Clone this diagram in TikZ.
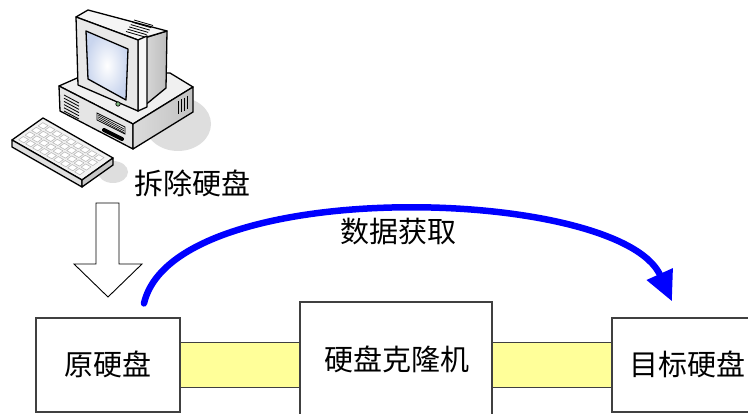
\documentclass[tikz,border=0pt]{standalone}
\usepackage{fontspec}
\newfontfamily\cjk{Noto Sans CJK SC}
\usetikzlibrary{arrows.meta}
\definecolor{bandyellow}{HTML}{FFFF99}
\definecolor{edgegray}{HTML}{404040}
\definecolor{screenblue}{HTML}{C9D5EE}
\definecolor{flowblue}{HTML}{0000FF}
\begin{document}
\begin{tikzpicture}[x=1pt,y=-1pt,
  diskbox/.style={draw=edgegray, line width=1.2pt, fill=white, inner sep=0pt},
  band/.style={draw=edgegray, line width=1pt, fill=bandyellow},
  lbl/.style={font=\cjk\fontsize{29}{32}\selectfont, inner sep=0pt},
  pc/.style={draw=black, line width=1.3pt, line join=round},
  vent/.style={draw=black, line width=0.8pt},
  keycap/.style={draw=gray!55, line width=0.6pt, fill=white, line join=round},
  softshadow/.style={fill=black!13, draw=none},
  hollowarrow/.style={draw=black, line width=0.9pt, fill=white, line join=miter},
  flow/.style={draw=flowblue, line width=6.5pt, line cap=round,
    -{Triangle[length=30pt,width=27pt]}}
]
\useasboundingbox (0,0) rectangle (748,414);
\clip (0,0) rectangle (748,414);

% ---------- desktop computer ----------
% floor shadows
\path[softshadow] (178,124) ellipse [x radius=33, y radius=27];
\path[softshadow] (113,172) ellipse [x radius=15, y radius=11];

% system unit
\path[pc, fill=black!6] (59,86) -- (84,75) -- (170,73) -- (193,87) -- (133,124) -- cycle;
\path[pc, fill=black!10] (59,86) -- (133,124) -- (133,149) -- (60,111) -- cycle;
\path[pc, left color=black!14, right color=black!24] (133,124) -- (193,87) -- (193,112) -- (133,149) -- cycle;
\foreach \i in {0,...,5}
  \draw[vent] (64,{95+3.2*\i}) -- (79,{103+3.2*\i});
\path[draw=black, line width=0.7pt, fill=black!8] (97,113) -- (125,127) -- (125,134) -- (97,120) -- cycle;
\foreach \i in {0,...,2}
  \draw[vent, line width=0.6pt] (98,{115+1.8*\i}) -- (124,{129+1.8*\i});
\draw[black, line width=4pt, line cap=round] (104,130) -- (122,139);
\foreach \x in {178,181,184,187}
  \draw[vent, line width=1pt] (\x,{124-0.617*(\x-133)+5}) -- (\x,{124-0.617*(\x-133)+18});

% monitor
\path[pc, left color=black!12, right color=black!26] (138,40) -- (167,31) -- (166,88) -- (138,111) -- cycle;
\path[pc, fill=black!4] (76,17) -- (88,10) -- (167,31) -- (147,37) -- (138,40) -- cycle;
\foreach \i in {0,...,5}
  \draw[vent] ({134-1.6*\i},{20+2.3*\i}) -- ({153-1.6*\i},{25.5+2.3*\i});
\path[pc, fill=black!3] (138,40) -- (147,36) -- (147,107) -- (138,111) -- cycle;
\path[pc, fill=black!9] (76,17) -- (138,40) -- (138,111) -- (78,85) -- cycle;
\path[pc, inner color=white, outer color=screenblue] (86,31) -- (128,49) -- (126,100) -- (88,79) -- cycle;
\path[draw=black, line width=0.7pt, fill=green!45!black!50] (118,104) circle [radius=2.2];

% keyboard
\path[pc, fill=black!5] (12,140) -- (43,118) -- (113,158) -- (82,180) -- cycle;
\path[pc, fill=black!12] (12,140) -- (82,180) -- (82,187) -- (12,147) -- cycle;
\path[pc, fill=black!22] (82,180) -- (113,158) -- (113,165) -- (82,187) -- cycle;
\foreach \j in {0,...,8}
  \foreach \k in {0,...,3} {
    \pgfmathsetmacro{\sa}{0.05+0.1*\j}
    \pgfmathsetmacro{\sb}{\sa+0.075}
    \pgfmathsetmacro{\ta}{0.1+0.21*\k}
    \pgfmathsetmacro{\tb}{\ta+0.15}
    \path[keycap] ({12+70*\sa+31*\ta},{140+40*\sa-22*\ta})
      -- ({12+70*\sb+31*\ta},{140+40*\sb-22*\ta})
      -- ({12+70*\sb+31*\tb},{140+40*\sb-22*\tb})
      -- ({12+70*\sa+31*\tb},{140+40*\sa-22*\tb}) -- cycle;
  }

% ---------- removal step ----------
\node[lbl] (remove) at (192,183) {拆除硬盘};
\path[hollowarrow] (96,203) -- (119,203) -- (119,264) -- (142,264) -- (108,297)
  -- (74,264) -- (96,264) -- cycle;

% ---------- disks and cloner ----------
\node[diskbox, minimum width=144pt, minimum height=94pt] (src) at (108,365) {};
\node[diskbox, minimum width=192pt, minimum height=130pt] (clone) at (396,367) {};
\node[diskbox, minimum width=150pt, minimum height=94pt] (dst) at (687,365) {};

\draw[band] ([yshift=22.5pt]src.east) rectangle ([yshift=-22.5pt]src.east -| clone.west);
\draw[band] ([yshift=22.5pt]src.east -| clone.east) rectangle ([yshift=-22.5pt]src.east -| dst.west);

\node[lbl] (srcLbl) at (108,364) {原硬盘};
\node[lbl] (cloneLbl) at (397,359) {硬盘克隆机};
\node[lbl] (dstLbl) at (687,364) {目标硬盘};

% ---------- data acquisition arc ----------
\coordinate (arcStart) at ([xshift=36pt,yshift=14pt]src.north);
\coordinate (arcEnd) at ([xshift=-15pt,yshift=16pt]dst.north);
\draw[flow] (arcStart) .. controls (174,174) and (620,186) .. (arcEnd);
\node[lbl] (acquire) at (398,232) {数据获取};
\end{tikzpicture}
\end{document}
